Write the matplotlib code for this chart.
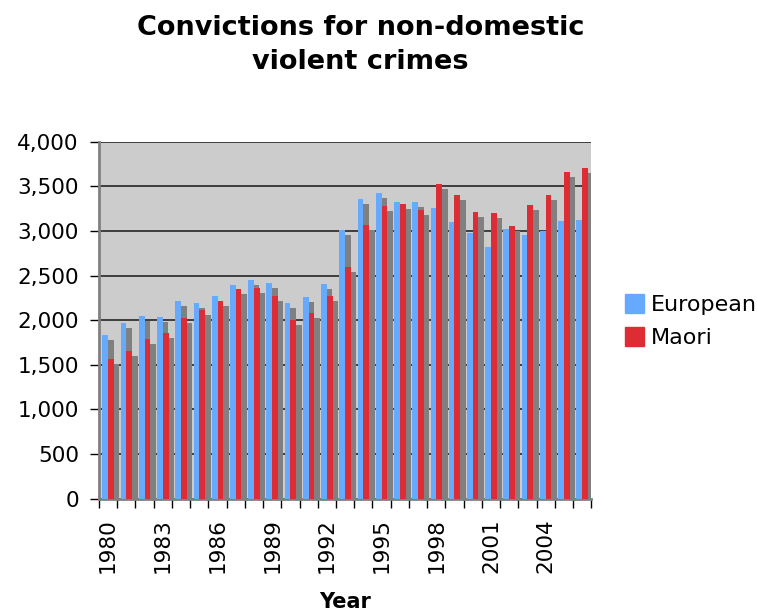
import matplotlib.pyplot as plt
import matplotlib.transforms as mtransforms
import numpy as np
from matplotlib.patches import Patch
from matplotlib.ticker import FuncFormatter, MultipleLocator

years = list(range(1980, 2007))
european = [1832, 1966, 2045, 2033, 2213, 2190, 2268, 2392, 2448,
            2414, 2190, 2257, 2403, 3007, 3354, 3421, 3321, 3321,
            3253, 3097, 2974, 2817, 3018, 2951, 2996, 3108, 3119]
maori = [1563, 1653, 1787, 1854, 2022, 2112, 2213, 2347, 2358,
         2268, 2000, 2078, 2268, 2593, 3063, 3276, 3298, 3231,
         3522, 3399, 3209, 3197, 3052, 3287, 3399, 3656, 3701]
tick_years = years[::3]

blue = "#66aaff"
red = "#dd2c33"
shadow = "#808080"

fig = plt.figure(figsize=(7.57, 6.13), dpi=100)
ax = fig.add_axes([0.1308, 0.1865, 0.6502, 0.5823])
ax.set_facecolor("#cccccc")

x = np.arange(len(years))
w = 0.315

# drop shadow: same bars nudged right and down by a few pixels
shift = mtransforms.ScaledTranslation(5.5 / 100, -5 / 100, fig.dpi_scale_trans)
sh = ax.transData + shift
ax.bar(x - w / 2, european, w, color=shadow, transform=sh, zorder=2)
ax.bar(x + w / 2, maori, w, color=shadow, transform=sh, zorder=2)
ax.bar(x - w / 2, european, w, color=blue, zorder=3)
ax.bar(x + w / 2, maori, w, color=red, zorder=4)

ax.set_xlim(-0.5, len(years) - 0.5)
ax.set_ylim(0, 4000)
ax.yaxis.set_major_locator(MultipleLocator(500))
ax.yaxis.set_major_formatter(FuncFormatter(lambda v, p: f"{int(v):,}"))
ax.grid(axis="y", color="#333333", linewidth=1.3, zorder=1)
ax.set_axisbelow(True)

ax.set_xticks(np.arange(len(years) + 1) - 0.5, minor=False)
ax.set_xticklabels([])
ax.set_xticks([years.index(y) for y in tick_years], minor=True)
ax.set_xticklabels([str(y) for y in tick_years], minor=True, rotation=90)
ax.tick_params(axis="x", which="minor", length=0, pad=14, labelsize=15.5)
ax.tick_params(axis="x", which="major", length=6.5, width=1, color="black")
ax.tick_params(axis="y", length=6.5, width=1, labelsize=15.5, pad=8)

for s in ["top", "right"]:
    ax.spines[s].set_visible(False)
ax.spines["left"].set_color("#808080")
ax.spines["left"].set_linewidth(2)
ax.spines["bottom"].set_color("#808080")
ax.spines["bottom"].set_linewidth(2)

ax.set_xlabel("Year", fontsize=15, fontweight="bold")
ax.xaxis.set_label_coords(0.5, -0.262)

fig.text(0.476, 0.975, "Convictions for non-domestic\nviolent crimes",
         ha="center", va="top", fontsize=19.5, fontweight="bold", linespacing=1.38)

handles = [Patch(color=blue, label="European"), Patch(color=red, label="Maori")]
fig.legend(handles=handles, loc="center left", bbox_to_anchor=(0.814, 0.476),
           frameon=False, fontsize=16, handlelength=0.85, handleheight=0.9,
           handletextpad=0.3, labelspacing=0.55, borderaxespad=0)

fig.savefig("out.png", dpi=100)
